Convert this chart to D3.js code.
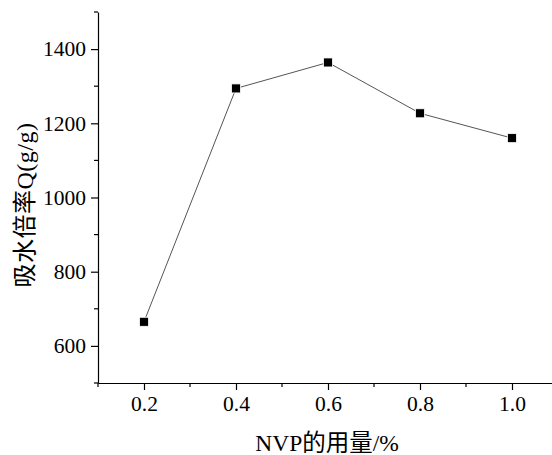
<!DOCTYPE html>
<html><head><meta charset="utf-8">
<script src="https://cdn.jsdelivr.net/npm/d3@7"></script>
<style>body{margin:0;background:#fff}svg{display:block}</style>
</head><body><svg id="c" width="552" height="455"></svg>
<script>
const categories = [0.2, 0.4, 0.6, 0.8, 1.0];
const values = [665, 1294, 1364, 1227, 1160];
const xTicks = [0.2, 0.4, 0.6, 0.8, 1.0];
const yTicks = [600, 800, 1000, 1200, 1400];
const xLabel = "NVP的用量/%";
const yLabel = "吸水倍率Q(g/g)";

const svg = d3.select("#c");
const x = d3.scaleLinear().domain([0.1, 1.1]).range([98, 558]);
const y = d3.scaleLinear().domain([500, 1500]).range([383, 12]);
const serif = "'Liberation Serif','Times New Roman',serif";
const cjk = "'Liberation Serif','Noto Sans CJK SC',serif";

const xMinor = [0.1, 0.3, 0.5, 0.7, 0.9];
const yMinor = [500, 700, 900, 1100, 1300, 1500];

const gx = svg.append("g").attr("transform", "translate(0,383)")
  .call(d3.axisBottom(x).tickValues(xTicks).tickFormat(d3.format(".1f")).tickSize(7).tickSizeOuter(0).tickPadding(6));
gx.append("g").selectAll("line").data(xMinor).join("line")
  .attr("x1", d => x(d)).attr("x2", d => x(d)).attr("y1", 0).attr("y2", 4).attr("stroke", "#000").attr("stroke-width", 1.2);
const gy = svg.append("g").attr("transform", "translate(98,0)")
  .call(d3.axisLeft(y).tickValues(yTicks).tickFormat(d3.format("d")).tickSize(7).tickSizeOuter(0).tickPadding(5));
gy.append("g").selectAll("line").data(yMinor).join("line")
  .attr("y1", d => y(d)).attr("y2", d => y(d)).attr("x1", 0).attr("x2", -4).attr("stroke", "#000").attr("stroke-width", 1.2);

[gx, gy].forEach(g => {
  g.selectAll(".domain").attr("stroke", "#000").attr("stroke-width", 1.2);
  g.selectAll(".tick line").attr("stroke", "#000").attr("stroke-width", 1.2);
  g.selectAll(".tick text").attr("font-family", serif).attr("font-size", 21.5).attr("fill", "#000");
});

const data = categories.map((c, i) => ({ x: c, y: values[i] }));
svg.append("path").datum(data)
  .attr("fill", "none").attr("stroke", "#555").attr("stroke-width", 1)
  .attr("d", d3.line().x(d => x(d.x)).y(d => y(d.y)));
svg.append("g").selectAll("rect").data(data).join("rect")
  .attr("x", d => x(d.x) - 4.5).attr("y", d => y(d.y) - 4.5)
  .attr("width", 9).attr("height", 9).attr("fill", "#000").attr("stroke", "#fff").attr("stroke-width", 0.8);

svg.append("text").attr("x", 327).attr("y", 451).attr("text-anchor", "middle")
  .attr("font-family", cjk).attr("font-size", 23.5).attr("fill", "#000").text(xLabel);
svg.append("text").attr("transform", "translate(33,205) rotate(-90)").attr("text-anchor", "middle")
  .attr("font-family", cjk).attr("font-size", 24).attr("letter-spacing", 0.5).attr("fill", "#000").text(yLabel);
</script></body></html>
